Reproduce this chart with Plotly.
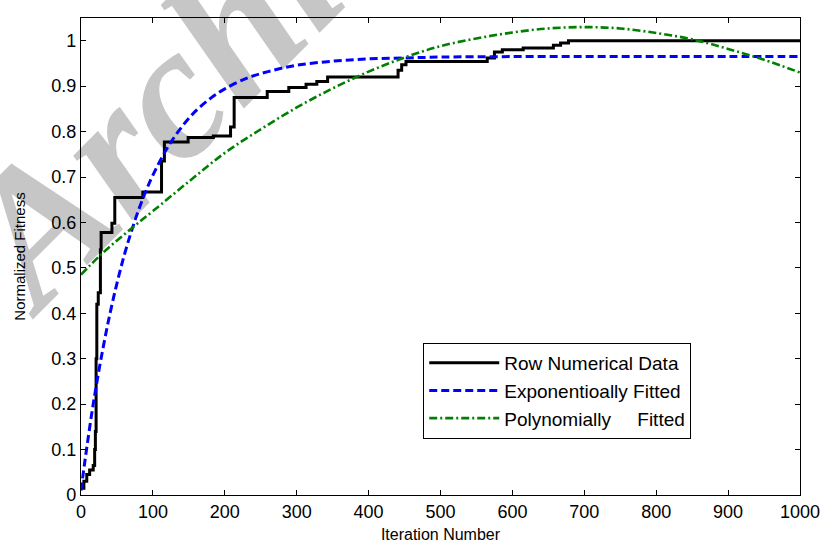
import plotly.graph_objects as go

# Raw fitness per iteration (step changes: iteration, value held afterwards)
raw_iter = [0, 4, 8, 12, 17, 19, 20, 21, 22, 24, 27, 28, 43, 47, 86, 112, 116,
            149, 184, 208, 213, 259, 289, 313, 328, 343, 441, 446, 452, 565,
            575, 586, 615, 657, 667, 678, 1000]
raw_fit = [0.015, 0.03, 0.045, 0.055, 0.065, 0.10, 0.14, 0.30, 0.42, 0.445,
           0.54, 0.578, 0.598, 0.655, 0.667, 0.735, 0.777, 0.787, 0.79, 0.81,
           0.875, 0.888, 0.897, 0.904, 0.91, 0.92, 0.935, 0.947, 0.954, 0.962,
           0.975, 0.98, 0.984, 0.99, 0.995, 1.0, 1.0]

# Exponential fit
exp_iter = [0, 5, 10, 15, 20, 30, 40, 50, 60, 70, 80, 90, 100, 120, 140, 160,
            180, 200, 230, 260, 300, 350, 400, 450, 500, 600, 700, 800, 900, 1000]
exp_fit = [0.010, 0.07, 0.126, 0.18, 0.229, 0.318, 0.397, 0.466, 0.527, 0.580,
           0.627, 0.668, 0.704, 0.764, 0.810, 0.846, 0.873, 0.894, 0.917,
           0.932, 0.946, 0.955, 0.960, 0.962, 0.964, 0.965, 0.965, 0.965,
           0.965, 0.965]

# Polynomial fit
poly_iter = [0, 25, 50, 75, 100, 150, 200, 250, 300, 350, 400, 450, 500, 550,
             600, 650, 700, 750, 800, 850, 900, 950, 1000]
poly_fit = [0.485, 0.525, 0.56, 0.593, 0.625, 0.69, 0.753, 0.805, 0.853, 0.895,
            0.932, 0.963, 0.988, 1.005, 1.018, 1.027, 1.030, 1.027, 1.017,
            1.003, 0.982, 0.958, 0.930]

x_ticks = [0, 100, 200, 300, 400, 500, 600, 700, 800, 900, 1000]
y_ticks = [0, 0.1, 0.2, 0.3, 0.4, 0.5, 0.6, 0.7, 0.8, 0.9, 1]
y_tick_text = ["0", "0.1", "0.2", "0.3", "0.4", "0.5", "0.6", "0.7", "0.8", "0.9", "1"]

SANS = "Liberation Sans, Arial"
NB = "\u00a0"

fig = go.Figure()
fig.add_trace(go.Scatter(x=raw_iter, y=raw_fit, mode="lines", line_shape="hv",
                         line=dict(color="black", width=3),
                         name="Row Numerical Data"))
fig.add_trace(go.Scatter(x=exp_iter, y=exp_fit, mode="lines", line_shape="spline",
                         line=dict(color="#0000ff", width=3, dash="8px,4px"),
                         name="Exponentioally" + NB + "Fitted"))
fig.add_trace(go.Scatter(x=poly_iter, y=poly_fit, mode="lines", line_shape="spline",
                         line=dict(color="#008000", width=2.6, dash="8px,3px,2px,3px"),
                         name="Polynomially" + NB * 5 + "Fitted"))

axis_common = dict(showgrid=False, zeroline=False, showline=True, linecolor="black",
                   linewidth=1.2, mirror="ticks", ticks="inside", ticklen=5,
                   tickcolor="black", tickwidth=1, automargin=False,
                   tickfont=dict(family=SANS, size=18, color="black"))

fig.update_xaxes(range=[0, 1000], tickvals=x_ticks, ticktext=[str(v) for v in x_ticks],
                 title=dict(text="Iteration Number", standoff=12,
                            font=dict(family=SANS, size=16, color="black")),
                 **axis_common)
fig.update_yaxes(range=[0, 1.05], tickvals=y_ticks, ticktext=y_tick_text,
                 title=dict(text="Normalized Fitness", standoff=22,
                            font=dict(family=SANS, size=15, color="black")),
                 **axis_common)

# Diagonal "Archive of SID" watermark, kept beneath axes and curves
fig.add_shape(type="line", xref="paper", yref="paper",
              x0=-0.0432, y0=0.3356, x1=1.1363, y1=2.1136,
              line=dict(color="rgba(0,0,0,0)", width=0), layer="below",
              label=dict(text="<b><i>Archive of SID</i></b>", textposition="middle",
                         yanchor="bottom",
                         font=dict(family="Liberation Serif, Times New Roman",
                                   size=190, color="#c6c6c6")))

fig.update_layout(
    width=824, height=543,
    margin=dict(l=81, r=24, t=18, b=48),
    paper_bgcolor="white", plot_bgcolor="white",
    font=dict(family=SANS, color="black"),
    legend=dict(x=0.476, y=0.319, xanchor="left", yanchor="top",
                bgcolor="white", bordercolor="black", borderwidth=1,
                font=dict(family=SANS, size=19, color="black"),
                itemwidth=70, tracegroupgap=2),
    showlegend=True,
)

fig.write_html("out.html")
